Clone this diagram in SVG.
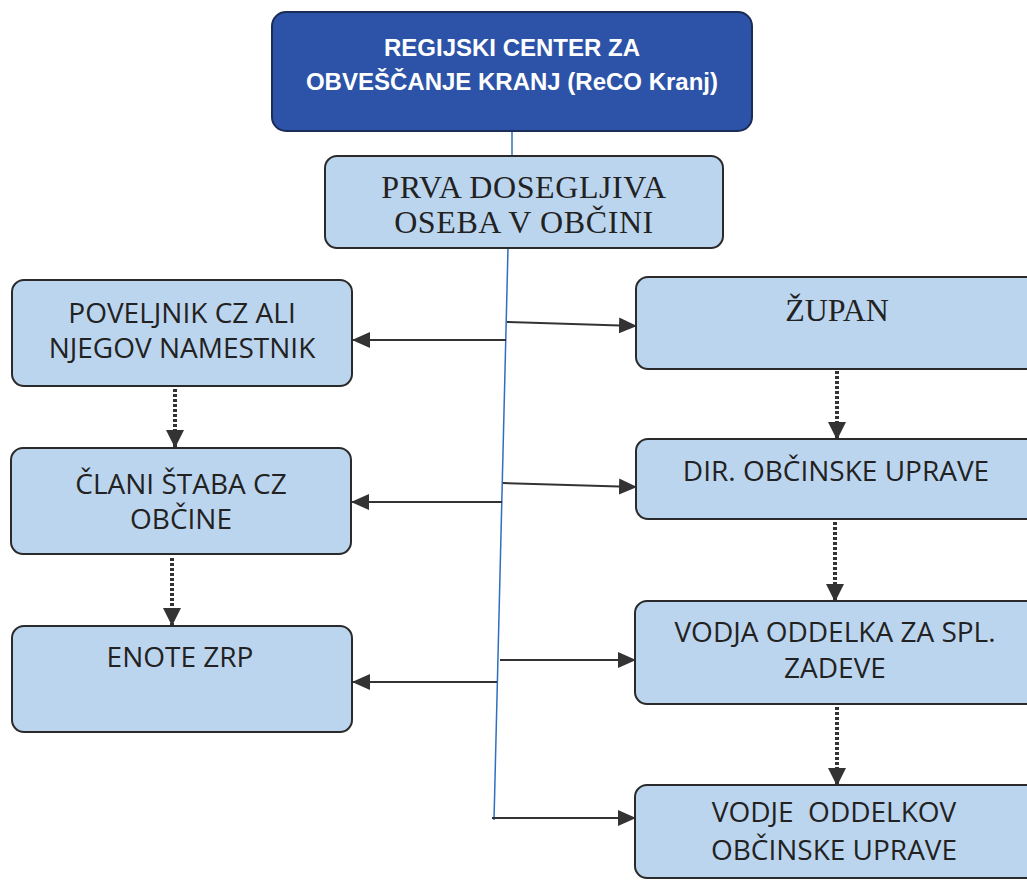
<svg xmlns="http://www.w3.org/2000/svg" width="1027" height="880" viewBox="0 0 1027 880">
<style>
.box{fill:#bcd5ee;stroke:#2a2a2a;stroke-width:2}
.top{fill:#2c53a8;stroke:#1b2c55;stroke-width:2}
.sans{font-family:"Open Sans","Noto Sans","Liberation Sans",sans-serif;font-size:28px;fill:#222;text-anchor:middle}
.serif{font-family:"Liberation Serif","Times New Roman",serif;font-size:32px;fill:#222;text-anchor:middle}
.head{font-family:"Liberation Sans",Arial,sans-serif;font-size:24px;font-weight:bold;fill:#fff;text-anchor:middle}
.arr{stroke:#333;stroke-width:2;fill:none}
.dot{stroke:#333;stroke-width:4;stroke-dasharray:3 2;fill:none}
.blue{stroke:#2f6fc0;stroke-width:1.5;fill:none}
</style>
<defs>
<marker id="ah" markerUnits="userSpaceOnUse" markerWidth="18" markerHeight="16" refX="17" refY="8" orient="auto">
<path d="M0,0 L18,8 L0,16 Z" fill="#333"/>
</marker>
<marker id="dh" markerUnits="userSpaceOnUse" markerWidth="18" markerHeight="18" refX="17" refY="9" orient="auto">
<path d="M0,0 L18,9 L0,18 Z" fill="#333"/>
</marker>
</defs>

<g id="connectors">
<line class="blue" x1="512" y1="131" x2="512" y2="156"/>
<line class="blue" x1="508" y1="248" x2="494" y2="820"/>
<line class="arr" x1="507" y1="322" x2="636" y2="326" marker-end="url(#ah)"/>
<line class="arr" x1="506" y1="340" x2="353" y2="340" marker-end="url(#ah)"/>
<line class="arr" x1="503" y1="483" x2="636" y2="487" marker-end="url(#ah)"/>
<line class="arr" x1="502" y1="502" x2="352" y2="502" marker-end="url(#ah)"/>
<line class="arr" x1="500" y1="660" x2="635" y2="660" marker-end="url(#ah)"/>
<line class="arr" x1="497" y1="682" x2="353" y2="682" marker-end="url(#ah)"/>
<line class="arr" x1="492" y1="818" x2="635" y2="818" marker-end="url(#ah)"/>
<line class="dot" x1="175" y1="389" x2="175" y2="447" marker-end="url(#dh)"/>
<line class="dot" x1="172" y1="558" x2="172" y2="625" marker-end="url(#dh)"/>
<line class="dot" x1="837" y1="371" x2="837" y2="439" marker-end="url(#dh)"/>
<line class="dot" x1="835" y1="522" x2="835" y2="601" marker-end="url(#dh)"/>
<line class="dot" x1="837" y1="707" x2="837" y2="785" marker-end="url(#dh)"/>
</g>

<g id="reco">
<rect class="top" x="272" y="12" width="480" height="119" rx="14"/>
<text class="head" x="512" y="56">REGIJSKI CENTER ZA</text>
<text class="head" x="512" y="90">OBVEŠČANJE KRANJ (ReCO Kranj)</text>
</g>

<g id="prva">
<rect class="box" x="325" y="156" width="398" height="92" rx="12"/>
<text class="serif" x="524" y="198" letter-spacing="0.6">PRVA DOSEGLJIVA</text>
<text class="serif" x="524" y="233" letter-spacing="0.6">OSEBA V OBČINI</text>
</g>

<g id="poveljnik">
<rect class="box" x="12" y="280" width="340" height="106" rx="12"/>
<text class="sans" x="182" y="323">POVELJNIK CZ ALI</text>
<text class="sans" x="182" y="358">NJEGOV NAMESTNIK</text>
</g>

<g id="clani">
<rect class="box" x="11" y="448" width="340" height="106" rx="12"/>
<text class="sans" x="181" y="494">ČLANI ŠTABA CZ</text>
<text class="sans" x="181" y="529">OBČINE</text>
</g>

<g id="enote">
<rect class="box" x="12" y="626" width="340" height="106" rx="12"/>
<text class="sans" x="180" y="667">ENOTE ZRP</text>
</g>

<g id="zupan">
<rect class="box" x="636" y="277" width="402" height="92" rx="12"/>
<text class="serif" x="837" y="321">ŽUPAN</text>
</g>

<g id="dir">
<rect class="box" x="636" y="439" width="402" height="80" rx="12"/>
<text class="sans" x="836" y="481">DIR. OBČINSKE UPRAVE</text>
</g>

<g id="vodja">
<rect class="box" x="635" y="601" width="403" height="103" rx="12"/>
<text class="sans" x="835" y="642">VODJA ODDELKA ZA SPL.</text>
<text class="sans" x="835" y="678">ZADEVE</text>
</g>

<g id="vodje">
<rect class="box" x="635" y="785" width="403" height="93" rx="12"/>
<text class="sans" x="834" y="822" xml:space="preserve">VODJE  ODDELKOV</text>
<text class="sans" x="834" y="860">OBČINSKE UPRAVE</text>
</g>
</svg>
